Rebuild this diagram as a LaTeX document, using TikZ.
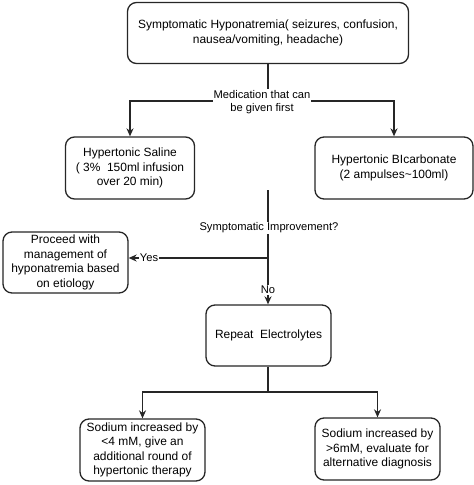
\documentclass[tikz,border=0pt]{standalone}
\usepackage{fontspec}
\setmainfont{Liberation Sans}
\usetikzlibrary{arrows.meta}
\begin{document}
\begin{tikzpicture}[x=1bp,y=-1bp,
  box/.style={draw=black!85, line width=1.3bp, rounded corners=9bp, fill=white,
    align=center, inner sep=0pt, font=\fontsize{12}{14.5}\selectfont, text=black},
  elabel/.style={fill=white, inner sep=1bp, align=center,
    font=\fontsize{11.2}{13.5}\selectfont, text=black},
  conn/.style={draw=black!85, line width=1.3bp},
  arr/.style={conn, -{Stealth[length=8bp,width=7bp]}}]
\useasboundingbox (0,0) rectangle (474,485);
\node[box, minimum width=281bp, minimum height=61bp] (top) at (268,33)
  {Symptomatic Hyponatremia( seizures, confusion,\\nausea/vomiting, headache)};
\node[box, minimum width=129bp, minimum height=62bp] (saline) at (130,168)
  {Hypertonic Saline\\( 3\%\ \ 150ml infusion\\over 20 min)};
\node[box, minimum width=158bp, minimum height=62bp] (bicarb) at (394,168)
  {Hypertonic BIcarbonate\\(2 ampulses\textasciitilde100ml)};
\node[box, minimum width=125bp, minimum height=61bp] (proceed) at (65.5,262.5)
  {Proceed with\\management of\\hyponatremia based\\on etiology};
\node[box, minimum width=125bp, minimum height=61bp] (repeat) at (268.5,335.5)
  {Repeat\ \ Electrolytes};
\node[box, minimum width=125bp, minimum height=62bp] (low) at (142.5,450)
  {Sodium increased by\\<4 mM, give an\\additional round of\\hypertonic therapy};
\node[box, minimum width=125bp, minimum height=62bp] (high) at (377.5,449)
  {Sodium increased by\\>6mM, evaluate for\\alternative diagnosis};
% first split
\coordinate (mj) at (268,101);
\draw[conn] (top.south -| mj) -- (mj);
\draw[arr] (mj) -| (saline.north);
\draw[arr] (mj) -| (bicarb.north);
\node[elabel] (med) at (262,102) {Medication that can\\be given first};
% decision
\coordinate (ds) at (268,190);
\coordinate (yj) at (268,258);
\draw[arr] (ds) -- (repeat.north -| ds);
\draw[arr] (yj) -- (proceed.east |- yj);
\node[elabel] (imp) at (269,228) {Symptomatic Improvement?};
\node[elabel] (yes) at (149,258) {Yes};
\node[elabel] (no) at (268,290) {No};
% bottom split
\coordinate (bj) at (268,392);
\draw[conn] (repeat.south -| bj) -- (bj);
\draw[arr] (bj) -| (low.north);
\draw[arr] (bj) -| (high.north);
\end{tikzpicture}
\end{document}
